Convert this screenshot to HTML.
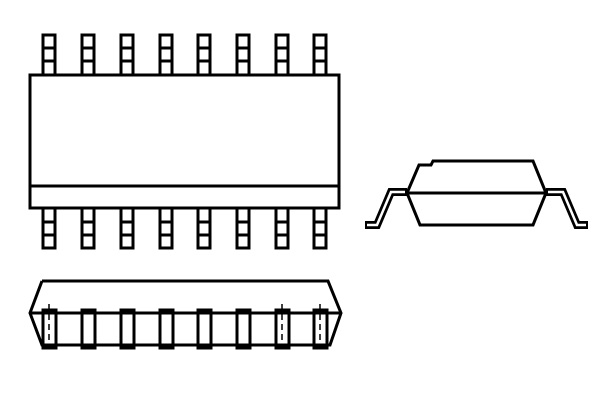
<!DOCTYPE html>
<html><head><style>body{margin:0;background:#fff}svg{display:block}</style></head><body>
<svg width="600" height="400" viewBox="0 0 600 400" xmlns="http://www.w3.org/2000/svg" fill="none" stroke="#000" stroke-width="3">
<rect x="30" y="75" width="309" height="133"/>
<line x1="30" y1="186" x2="339" y2="186"/>
<g id="pins">
<g id="tp"><rect x="43" y="35" width="12" height="40"/><line x1="43" y1="48" x2="55" y2="48"/><line x1="43" y1="61" x2="55" y2="61"/>
<rect x="43" y="208" width="12" height="40"/><line x1="43" y1="222" x2="55" y2="222"/><line x1="43" y1="235" x2="55" y2="235"/>
<rect x="43" y="310" width="13" height="38"/></g>
<use href="#tp" x="39"/><use href="#tp" x="78"/><use href="#tp" x="117"/><use href="#tp" x="155"/><use href="#tp" x="194"/><use href="#tp" x="233"/><use href="#tp" x="271"/>
</g>
<polyline points="42,281 328,281 341,313 330,345 42,345 30,313 42,281" fill="none"/>
<line x1="30" y1="313" x2="341" y2="313"/>
<g stroke-width="1.5" stroke-dasharray="6,4">
<line x1="49" y1="304" x2="49" y2="348"/><line x1="282" y1="304" x2="282" y2="348"/><line x1="320" y1="304" x2="320" y2="348"/>
</g>
<polygon points="407,193 419,165 431,165 433,161 533,161 546,193"/>
<polygon points="407,193 546,193 533,225 420,225"/>
<g stroke-width="8" stroke-linejoin="miter"><polyline points="407,192 391,192 377,225 365,225"/><polyline points="546,192 563,192 577,225 588,225"/></g>
<g stroke="#fff" stroke-width="2.5"><polyline points="405,192 391,192 377,225 367,225"/><polyline points="548,192 563,192 577,225 586,225"/></g>
</svg>
</body></html>
